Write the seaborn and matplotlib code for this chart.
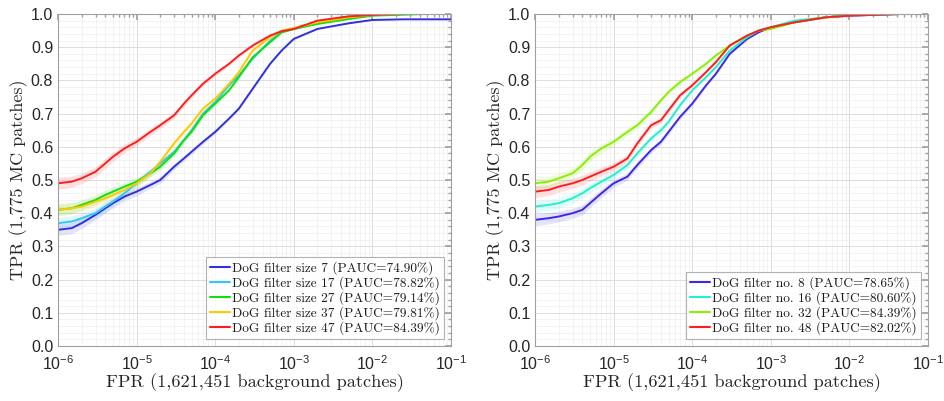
import numpy as np
import pandas as pd
import matplotlib
matplotlib.use("Agg")
import matplotlib.pyplot as plt
import matplotlib.ticker as mticker
import seaborn as sns

# ---------------- data ----------------
L_FPR = [1e-6, 1.5e-6, 2e-6, 3e-6, 4e-6, 5e-6, 7e-6, 1e-5, 1.5e-5, 2e-5, 3e-5, 4e-5,
         5e-5, 7e-5, 1e-4, 1.5e-4, 2e-4, 3e-4, 5e-4, 7e-4, 1e-3, 2e-3, 5e-3, 1e-2,
         2.5e-2, 5e-2, 1e-1]
L_NAMES = ["DoG filter size 7 (PAUC=74.90%)", "DoG filter size 17 (PAUC=78.82%)",
           "DoG filter size 27 (PAUC=79.14%)", "DoG filter size 37 (PAUC=79.81%)",
           "DoG filter size 47 (PAUC=84.39%)"]
L_SIZE7 = [.35, .355, .37, .395, .415, .43, .45, .465, .485, .50, .54, .565, .585, .615,
           .645, .685, .715, .775, .85, .89, .925, .955, .972, .982, .984, .984, .984]
L_SIZE17 = [.37, .375, .385, .40, .42, .435, .46, .49, .525, .55, .585, .62, .65, .70,
            .735, .785, .815, .865, .92, .945, .955, .975, .99, .997, 1.0, np.nan, np.nan]
L_SIZE27 = [.41, .415, .425, .44, .455, .465, .48, .495, .52, .54, .58, .62, .645, .695,
            .73, .77, .81, .87, .915, .945, .955, .97, .985, .995, .998, 1.0, np.nan]
L_SIZE37 = [.41, .415, .42, .435, .445, .455, .47, .49, .52, .555, .61, .645, .67, .715,
            .745, .79, .825, .89, .93, .95, .958, .975, .99, .997, 1.0, np.nan, np.nan]
L_SIZE47 = [.49, .495, .505, .525, .55, .57, .595, .615, .645, .665, .695, .73, .755, .79,
            .82, .85, .875, .905, .935, .948, .955, .98, .993, .997, 1.0, np.nan, np.nan]
L_BAND = [.018, .017, .016, .015, .015, .014, .013, .012, .011, .010, .009, .008, .008,
          .007, .006, .005, .005, .004, .003, .002, .002, .001, .001, 0, 0, 0, 0]
L_COLORS = ["#3030e0", "#30c8f8", "#10e010", "#ffc800", "#ff1e1e"]

R_FPR = [1e-6, 1.5e-6, 2e-6, 3e-6, 4e-6, 5e-6, 7e-6, 1e-5, 1.5e-5, 2e-5, 3e-5, 4e-5,
         5e-5, 7e-5, 1e-4, 1.5e-4, 2e-4, 3e-4, 5e-4, 7e-4, 1e-3, 2e-3, 5e-3, 1e-2,
         2.5e-2, 4.5e-2]
R_NAMES = ["DoG filter no. 8 (PAUC=78.65%)", "DoG filter no. 16 (PAUC=80.60%)",
           "DoG filter no. 32 (PAUC=84.39%)", "DoG filter no. 48 (PAUC=82.02%)"]
R_NO8 = [.38, .385, .39, .40, .41, .43, .46, .49, .51, .545, .59, .615, .645, .69, .73,
         .785, .82, .88, .925, .945, .96, .975, .99, .995, .998, 1.0]
R_NO16 = [.42, .425, .43, .445, .46, .475, .495, .515, .545, .58, .625, .65, .675, .725,
          .77, .81, .84, .89, .93, .95, .96, .98, .99, .997, .999, 1.0]
R_NO32 = [.49, .495, .505, .52, .545, .57, .595, .615, .645, .665, .705, .74, .765, .795,
          .82, .85, .875, .905, .935, .95, .955, .975, .99, .996, .999, 1.0]
R_NO48 = [.465, .47, .48, .49, .50, .51, .525, .54, .565, .61, .665, .68, .71, .755,
          .785, .825, .855, .905, .935, .95, .96, .975, .99, .995, .998, 1.0]
R_BAND = [.018, .017, .016, .015, .015, .014, .013, .012, .011, .010, .009, .008, .008,
          .007, .006, .005, .005, .004, .003, .002, .002, .001, .001, 0, 0, 0]
R_COLORS = ["#3c28e6", "#20f0d0", "#88f000", "#ff1e1e"]

X_LABEL = "FPR (1,621,451 background patches)"
Y_LABEL = "TPR (1,775 MC patches)"

# ---------------- style ----------------
sns.set_theme(style="white")
plt.rcParams["font.family"] = ["Liberation Sans", "DejaVu Sans"]
plt.rcParams["mathtext.fontset"] = "custom"
plt.rcParams["mathtext.rm"] = "Liberation Sans"
plt.rcParams["mathtext.it"] = "Liberation Sans:italic"
plt.rcParams["axes.unicode_minus"] = False
SERIF = ["cmr10", "DejaVu Serif"]

fig = plt.figure(figsize=(9.45, 4.01), dpi=100)
ax_l = fig.add_axes([58 / 945, 55 / 401, 393 / 945, 332 / 401])
ax_r = fig.add_axes([535 / 945, 55 / 401, 393 / 945, 332 / 401])


def draw(ax, fpr, names, series, band, colors):
    frames = []
    for name, vals in zip(names, series):
        frames.append(pd.DataFrame({"FPR": fpr, "TPR": vals, "model": name}))
    df = pd.concat(frames, ignore_index=True).dropna()
    fpr_a = np.array(fpr)
    band_a = np.array(band)
    for vals, c in zip(series, colors):
        v = np.array(vals, dtype=float)
        m = ~np.isnan(v)
        ax.fill_between(fpr_a[m], (v - band_a)[m], np.minimum(v + band_a, 1.0)[m],
                        color=c, alpha=0.13, lw=0)
    sns.lineplot(data=df, x="FPR", y="TPR", hue="model", palette=colors,
                 hue_order=names, ax=ax, lw=1.4, legend=True)
    ax.set_xscale("log")
    ax.set_xlim(1e-6, 1e-1)
    ax.set_ylim(0, 1)
    ax.xaxis.set_major_locator(mticker.LogLocator(base=10, numticks=10))
    ax.xaxis.set_minor_locator(mticker.LogLocator(base=10, subs=np.arange(2, 10), numticks=20))
    ax.xaxis.set_major_formatter(mticker.FuncFormatter(
        lambda x, p: r"$10^{%d}$" % int(round(np.log10(x)))))
    ax.xaxis.set_minor_formatter(mticker.NullFormatter())
    ax.yaxis.set_major_locator(mticker.MultipleLocator(0.1))
    ax.yaxis.set_minor_locator(mticker.MultipleLocator(0.02))
    ax.yaxis.set_major_formatter(mticker.FormatStrFormatter("%.1f"))
    ax.grid(which="major", color="#dcdcdc", lw=0.7)
    ax.grid(which="minor", color="#efefef", lw=0.5)
    ax.set_axisbelow(True)
    for s in ax.spines.values():
        s.set_color("#a0a0a0")
        s.set_linewidth(0.8)
    ax.tick_params(which="both", direction="in", top=True, right=True,
                   colors="#a0a0a0", labelcolor="#262626")
    ax.tick_params(which="major", length=4, labelsize=11.5)
    ax.tick_params(axis="y", which="major", pad=3.5)
    ax.tick_params(axis="x", which="major", pad=6)
    ax.tick_params(which="minor", length=2)
    ax.set_xlabel(X_LABEL, family=SERIF, fontsize=13.2, color="#262626", labelpad=0)
    ax.set_ylabel(Y_LABEL, family=SERIF, fontsize=13, color="#262626", labelpad=2)
    leg = ax.legend(loc="lower right", prop={"family": SERIF, "size": 9.6},
                    frameon=True, fancybox=False, handlelength=1.5, handletextpad=0.15,
                    borderpad=0.3, labelspacing=0.08, borderaxespad=0.55)
    leg.get_frame().set_edgecolor("#a0a0a0")
    leg.get_frame().set_linewidth(0.8)
    for t in leg.get_texts():
        t.set_color("#1a1a1a")
    for h in leg.get_lines():
        h.set_linewidth(1.5)


draw(ax_l, L_FPR, L_NAMES, [L_SIZE7, L_SIZE17, L_SIZE27, L_SIZE37, L_SIZE47], L_BAND, L_COLORS)
draw(ax_r, R_FPR, R_NAMES, [R_NO8, R_NO16, R_NO32, R_NO48], R_BAND, R_COLORS)

fig.savefig("out.png", dpi=100)
